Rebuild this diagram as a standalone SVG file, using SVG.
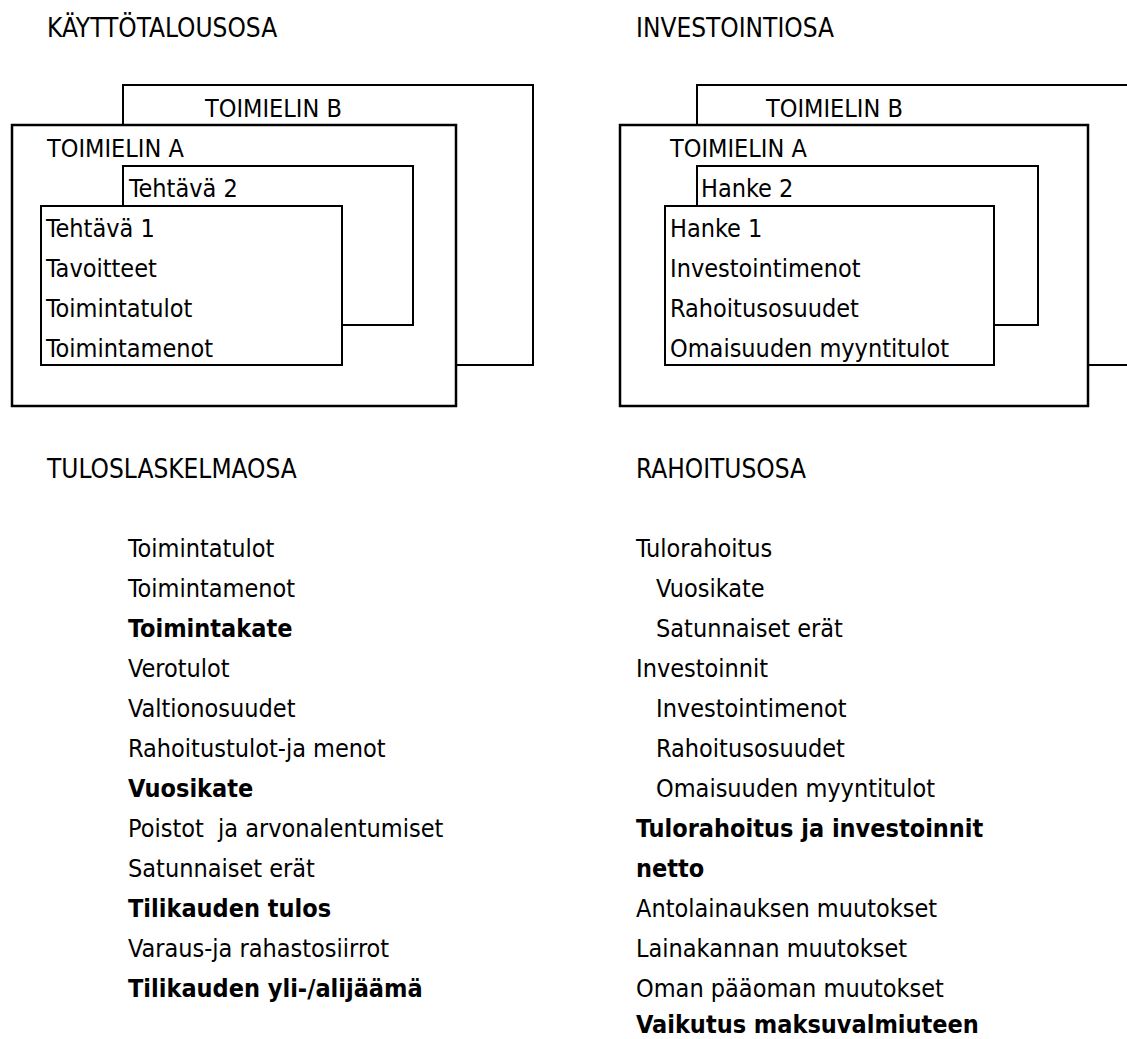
<svg xmlns="http://www.w3.org/2000/svg" width="1127" height="1039" viewBox="0 0 1127 1039">
<style>
  .box { fill: #ffffff; stroke: #000000; stroke-width: 2; }
  .boxA { fill: #ffffff; stroke: #000000; stroke-width: 2.5; }
  text { font-family: "DejaVu Sans Condensed", "DejaVu Sans", sans-serif; font-size: 25px; fill: #000000; }
  .head { font-size: 26px; }
  .b { font-weight: bold; }
</style>
<rect width="1127" height="1039" fill="#ffffff"/>

<g id="heading-kayttotalous"><text class="head" x="47" y="37">KÄYTTÖTALOUSOSA</text></g>
<g id="heading-investointi"><text class="head" x="636" y="37">INVESTOINTIOSA</text></g>

<!-- Left group -->
<g id="toimielin-b-left">
  <rect class="box" x="123" y="85" width="410" height="280"/>
  <text x="205" y="117">TOIMIELIN B</text>
</g>
<g id="toimielin-a-left">
  <rect class="boxA" x="12" y="125" width="444" height="281"/>
  <text x="47" y="157">TOIMIELIN A</text>
</g>
<g id="tehtava-2">
  <rect class="box" x="123" y="166" width="290" height="159"/>
  <text x="129" y="197">Tehtävä 2</text>
</g>
<g id="tehtava-1">
  <rect class="box" x="41" y="206" width="301" height="159"/>
  <text x="46" y="237">Tehtävä 1</text>
  <text x="46" y="277">Tavoitteet</text>
  <text x="46" y="317">Toimintatulot</text>
  <text x="46" y="357">Toimintamenot</text>
</g>

<!-- Right group -->
<g id="toimielin-b-right">
  <rect class="box" x="697" y="85" width="460" height="280"/>
  <text x="766" y="117">TOIMIELIN B</text>
</g>
<g id="toimielin-a-right">
  <rect class="boxA" x="620" y="125" width="468" height="281"/>
  <text x="670" y="157">TOIMIELIN A</text>
</g>
<g id="hanke-2">
  <rect class="box" x="697" y="166" width="341" height="159"/>
  <text x="701" y="197">Hanke 2</text>
</g>
<g id="hanke-1">
  <rect class="box" x="665" y="206" width="329" height="159"/>
  <text x="670" y="237">Hanke 1</text>
  <text x="670" y="277">Investointimenot</text>
  <text x="670" y="317">Rahoitusosuudet</text>
  <text x="670" y="357">Omaisuuden myyntitulot</text>
</g>

<g id="connectors"></g>

<!-- Tuloslaskelmaosa -->
<g id="tuloslaskelmaosa">
  <text class="head" x="47" y="478">TULOSLASKELMAOSA</text>
  <text x="128" y="557">Toimintatulot</text>
  <text x="128" y="597">Toimintamenot</text>
  <text class="b" x="128" y="637">Toimintakate</text>
  <text x="128" y="677">Verotulot</text>
  <text x="128" y="717">Valtionosuudet</text>
  <text x="128" y="757">Rahoitustulot-ja menot</text>
  <text class="b" x="128" y="797">Vuosikate</text>
  <text x="128" y="837" xml:space="preserve">Poistot  ja arvonalentumiset</text>
  <text x="128" y="877">Satunnaiset erät</text>
  <text class="b" x="128" y="917">Tilikauden tulos</text>
  <text x="128" y="957">Varaus-ja rahastosiirrot</text>
  <text class="b" x="128" y="997">Tilikauden yli-/alijäämä</text>
</g>

<!-- Rahoitusosa -->
<g id="rahoitusosa">
  <text class="head" x="636" y="478">RAHOITUSOSA</text>
  <text x="636" y="557">Tulorahoitus</text>
  <text x="656" y="597">Vuosikate</text>
  <text x="656" y="637">Satunnaiset erät</text>
  <text x="636" y="677">Investoinnit</text>
  <text x="656" y="717">Investointimenot</text>
  <text x="656" y="757">Rahoitusosuudet</text>
  <text x="656" y="797">Omaisuuden myyntitulot</text>
  <text class="b" x="636" y="837">Tulorahoitus ja investoinnit</text>
  <text class="b" x="636" y="877">netto</text>
  <text x="636" y="917">Antolainauksen muutokset</text>
  <text x="636" y="957">Lainakannan muutokset</text>
  <text x="636" y="997">Oman pääoman muutokset</text>
  <text class="b" x="636" y="1033">Vaikutus maksuvalmiuteen</text>
</g>
</svg>
